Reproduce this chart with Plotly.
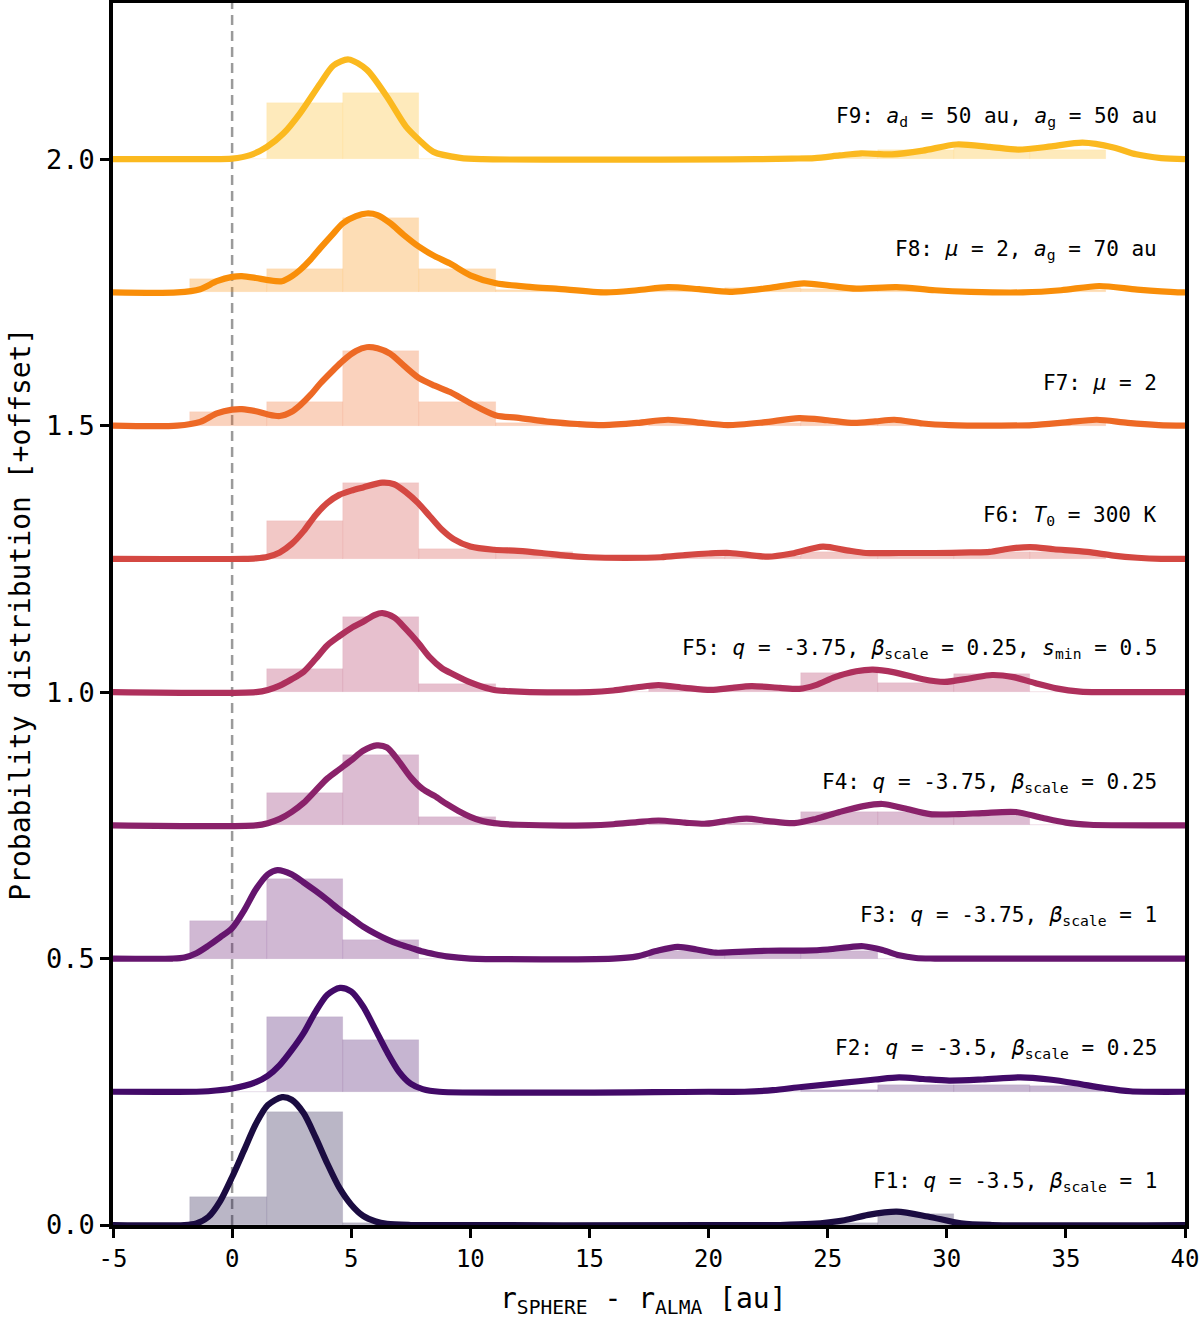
import plotly.graph_objects as go

# ---------------- data ----------------
bin_edges = [-1.77, 1.46, 4.66, 7.85, 11.08, 14.3, 17.5, 20.7, 23.9, 27.1, 30.3, 33.5, 36.7]

offsets = [0.0, 0.25, 0.5, 0.75, 1.0, 1.25, 1.5, 1.75, 2.0]
names = ["F1", "F2", "F3", "F4", "F5", "F6", "F7", "F8", "F9"]
colors = ["#1b0c41", "#420a68", "#65156e", "#8a226a", "#ae305c",
          "#d44842", "#ed6925", "#f98e09", "#fbb91f"]

labels = [
    "F1: <i>q</i> = -3.5, <i>β</i><sub>scale</sub> = 1",
    "F2: <i>q</i> = -3.5, <i>β</i><sub>scale</sub> = 0.25",
    "F3: <i>q</i> = -3.75, <i>β</i><sub>scale</sub> = 1",
    "F4: <i>q</i> = -3.75, <i>β</i><sub>scale</sub> = 0.25",
    "F5: <i>q</i> = -3.75, <i>β</i><sub>scale</sub> = 0.25, <i>s</i><sub>min</sub> = 0.5",
    "F6: <i>T</i><sub>0</sub> = 300 K",
    "F7: <i>μ</i> = 2",
    "F8: <i>μ</i> = 2, <i>a</i><sub>g</sub> = 70 au",
    "F9: <i>a</i><sub>d</sub> = 50 au, <i>a</i><sub>g</sub> = 50 au",
]

hist_F1 = [0.052, 0.212, 0.003, 0, 0, 0, 0, 0, 0.004, 0.02, 0, 0]
hist_F2 = [0, 0.141, 0.0965, 0, 0, 0, 0, 0, 0.004, 0.0125, 0.0125, 0.01]
hist_F3 = [0.07, 0.15, 0.034, 0, 0, 0, 0.015, 0.015, 0.015, 0, 0, 0]
hist_F4 = [0, 0.061, 0.132, 0.016, 0, 0, 0.005, 0.005, 0.025, 0.025, 0.022, 0]
hist_F5 = [0, 0.0425, 0.141, 0.016, 0, 0, 0.005, 0.005, 0.035, 0.0175, 0.033, 0]
hist_F6 = [0, 0.071, 0.1415, 0.018, 0.012, 0, 0.004, 0.006, 0.012, 0.008, 0.012, 0.012]
hist_F7 = [0.025, 0.0435, 0.14, 0.0435, 0.005, 0, 0.004, 0.004, 0.008, 0.004, 0, 0.005]
hist_F8 = [0.025, 0.044, 0.14, 0.044, 0.005, 0, 0.004, 0.008, 0.006, 0.004, 0, 0.005]
hist_F9 = [0, 0.105, 0.124, 0, 0, 0, 0, 0, 0.006, 0.018, 0.02, 0.017]

kde_F1_x = [-5, -2, -1.5, -1, -0.5, 0, 0.5, 1, 1.5, 2.1, 2.5, 3, 3.5, 4, 4.5, 5, 5.5, 6, 6.5, 7.5,
            20, 23, 24.3, 25.7, 26.7, 27.9, 29.2, 30.6, 31.9, 40]
kde_F1_y = [0, 0, 0.003, 0.015, 0.045, 0.09, 0.14, 0.19, 0.225, 0.24, 0.235, 0.21, 0.165, 0.115, 0.07,
            0.038, 0.017, 0.007, 0.002, 0, 0, 0, 0.002, 0.009, 0.019, 0.025, 0.016, 0.003, 0, 0]

kde_F2_x = [-5, -1.5, -1, 0, 1, 1.5, 2, 2.5, 3, 3.5, 4, 4.53, 5, 5.5, 6, 6.5, 7, 7.5, 8, 8.7,
            20, 21.5, 22.7, 23.9, 25.7, 27, 28, 29, 30.1, 31.5, 33.1, 34.3, 35.4, 36.6, 37.7, 40]
kde_F2_y = [0, 0, 0.001, 0.006, 0.018, 0.03, 0.05, 0.078, 0.11, 0.15, 0.182, 0.195, 0.188, 0.16, 0.118,
            0.075, 0.038, 0.015, 0.005, 0, 0, 0, 0.003, 0.009, 0.017, 0.023, 0.027, 0.024, 0.021,
            0.023, 0.027, 0.023, 0.016, 0.007, 0.001, 0]

kde_F3_x = [-5, -2.5, -2, -1.5, -1, -0.5, 0, 0.5, 1, 1.5, 1.9, 2.5, 3, 3.5, 4, 4.5, 5, 5.5, 6, 6.5,
            7, 7.5, 8, 8.5, 9, 10, 16, 17, 17.8, 18.7, 19.5, 20.3, 21, 22, 23, 24, 25, 26, 26.5,
            27.3, 28, 28.7, 29.5, 40]
kde_F3_y = [0, 0, 0.002, 0.01, 0.024, 0.04, 0.057, 0.09, 0.13, 0.158, 0.166, 0.158, 0.143, 0.127,
            0.11, 0.092, 0.076, 0.06, 0.047, 0.036, 0.027, 0.02, 0.013, 0.008, 0.004, 0, 0, 0.004,
            0.014, 0.022, 0.017, 0.011, 0.012, 0.014, 0.015, 0.015, 0.017, 0.022, 0.023, 0.016,
            0.006, 0.001, 0, 0]

kde_F4_x = [-5, 1, 1.5, 2, 2.5, 3, 3.5, 4, 4.5, 5, 5.5, 6.07, 6.5, 7, 7.5, 8, 8.5, 9, 9.5, 10, 10.5,
            11, 12, 15, 16, 17, 17.9, 19, 19.9, 21, 21.6, 22.5, 23.6, 24.5, 25.5, 26.5, 27.3, 28.2,
            29.3, 30.5, 31.5, 32.9, 34, 35, 36, 40]
kde_F4_y = [0, 0, 0.004, 0.012, 0.025, 0.042, 0.065, 0.088, 0.105, 0.122, 0.14, 0.15, 0.146, 0.12,
            0.09, 0.068, 0.055, 0.04, 0.027, 0.016, 0.008, 0.004, 0.001, 0, 0.002, 0.006, 0.009,
            0.005, 0.003, 0.01, 0.0125, 0.008, 0.004, 0.012, 0.025, 0.036, 0.04, 0.032, 0.021,
            0.021, 0.023, 0.025, 0.014, 0.005, 0.001, 0]

kde_F5_x = [-5, 1, 1.5, 2, 2.5, 3, 3.5, 4, 4.5, 5, 5.5, 6, 6.3, 6.8, 7.3, 7.8, 8.3, 8.8, 9.3, 10,
            10.5, 11, 11.5, 12.5, 15, 16, 17, 17.9, 19, 20.1, 21, 21.8, 23, 23.8, 24.5, 25.3, 26.2,
            26.9, 27.8, 29, 29.9, 31, 31.9, 32.8, 33.7, 34.6, 35.6, 36.5, 40]
kde_F5_y = [0, 0, 0.004, 0.012, 0.024, 0.038, 0.062, 0.088, 0.105, 0.12, 0.132, 0.145, 0.148, 0.14,
            0.118, 0.093, 0.065, 0.045, 0.033, 0.018, 0.01, 0.004, 0.002, 0, 0, 0.003, 0.009, 0.013,
            0.008, 0.004, 0.008, 0.011, 0.008, 0.006, 0.013, 0.028, 0.039, 0.042, 0.037, 0.024,
            0.019, 0.026, 0.032, 0.028, 0.017, 0.007, 0.001, 0, 0]

kde_F6_x = [-5, 0.5, 1, 1.5, 2, 2.5, 3, 3.5, 4, 4.5, 5, 5.5, 6.3, 6.8, 7.3, 7.8, 8.3, 8.8, 9.3, 10,
            11, 12, 13, 14, 15, 16.5, 18, 19, 20, 20.9, 22.5, 23.5, 24.8, 25.8, 26.6, 28, 29.5, 31,
            31.8, 32.6, 33.5, 34.5, 35.9, 37, 38, 39, 40]
kde_F6_y = [0, 0, 0.001, 0.004, 0.012, 0.028, 0.052, 0.082, 0.105, 0.12, 0.128, 0.134, 0.143, 0.14,
            0.125, 0.105, 0.08, 0.055, 0.037, 0.023, 0.017, 0.015, 0.011, 0.006, 0.003, 0.002, 0.003,
            0.007, 0.01, 0.011, 0.004, 0.01, 0.023, 0.016, 0.011, 0.011, 0.011, 0.012, 0.013, 0.019,
            0.022, 0.018, 0.013, 0.006, 0.002, 0, 0]

kde_F7_x = [-5, -2.3, -1.34, -0.64, 0, 0.41, 1, 1.5, 2.0, 2.5, 2.85, 3.3, 3.7, 4.2, 4.66, 5.2, 5.65,
            6.1, 6.63, 7.2, 7.85, 8.5, 9.15, 10.0, 11.08, 11.95, 13.35, 14.5, 15.6, 17, 18.3, 19.5,
            20.8, 22.3, 23.8, 25, 26.1, 27, 27.8, 29, 30.1, 32, 33.6, 35, 36.3, 37.6, 38.9, 40]
kde_F7_y = [0, 0, 0.007, 0.023, 0.03, 0.031, 0.027, 0.021, 0.018, 0.026, 0.038, 0.058, 0.079, 0.102,
            0.122, 0.14, 0.147, 0.145, 0.135, 0.113, 0.089, 0.075, 0.063, 0.042, 0.019, 0.015, 0.007,
            0.003, 0.001, 0.005, 0.011, 0.006, 0.001, 0.006, 0.014, 0.01, 0.005, 0.008, 0.011, 0.004,
            0.001, 0, 0.001, 0.006, 0.011, 0.005, 0.001, 0]

kde_F8_x = [-5, -2.3, -1.34, -0.64, 0, 0.41, 1, 1.5, 2.09, 2.5, 2.85, 3.3, 3.7, 4.2, 4.66, 5.2, 5.65,
            6.1, 6.63, 7.2, 7.85, 8.5, 9.15, 10.0, 11.08, 12.6, 13.6, 15.7, 17, 18.3, 19.6, 20.9,
            22.5, 24.0, 25.1, 26.2, 27.9, 29.5, 31, 33.2, 34.8, 36.4, 38, 39.7, 40]
kde_F8_y = [0, 0, 0.006, 0.021, 0.029, 0.0305, 0.027, 0.023, 0.021, 0.03, 0.042, 0.062, 0.083, 0.108,
            0.13, 0.143, 0.148, 0.145, 0.13, 0.108, 0.0855, 0.068, 0.054, 0.032, 0.017, 0.01, 0.007,
            0.0, 0.004, 0.01, 0.006, 0.001, 0.008, 0.017, 0.012, 0.007, 0.01, 0.004, 0.001, 0,
            0.004, 0.012, 0.005, 0, 0]

kde_F9_x = [-5, -1, 0, 0.76, 1.46, 2.15, 2.85, 3.7, 4.26, 4.89, 5.65, 6.5, 7.3, 7.85, 8.45, 9.57,
            10.5, 22, 23.5, 24.45, 25.5, 26.4, 27.7, 29, 30.4, 31.8, 33.0, 34.4, 35.7, 37, 37.95, 39, 40]
kde_F9_y = [0, 0, 0.001, 0.0075, 0.023, 0.048, 0.086, 0.142, 0.176, 0.187, 0.168, 0.117, 0.061,
            0.036, 0.0137, 0.0025, 0, 0, 0.001, 0.002, 0.007, 0.011, 0.009, 0.016, 0.0275, 0.023,
            0.018, 0.024, 0.031, 0.022, 0.009, 0.002, 0]

hists = [hist_F1, hist_F2, hist_F3, hist_F4, hist_F5, hist_F6, hist_F7, hist_F8, hist_F9]
kde_xs = [kde_F1_x, kde_F2_x, kde_F3_x, kde_F4_x, kde_F5_x, kde_F6_x, kde_F7_x, kde_F8_x, kde_F9_x]
kde_ys = [kde_F1_y, kde_F2_y, kde_F3_y, kde_F4_y, kde_F5_y, kde_F6_y, kde_F7_y, kde_F8_y, kde_F9_y]

x_ticks = [-5, 0, 5, 10, 15, 20, 25, 30, 35, 40]
x_ticktext = ["-5", "0", "5", "10", "15", "20", "25", "30", "35", "40"]
y_ticks = [0.0, 0.5, 1.0, 1.5, 2.0]
y_ticktext = ["0.0", "0.5", "1.0", "1.5", "2.0"]

# ---------------- figure ----------------
FONT = "DejaVu Sans Mono"


def rgba(hexc, a):
    h = hexc.lstrip("#")
    r, g, b = int(h[0:2], 16), int(h[2:4], 16), int(h[4:6], 16)
    return f"rgba({r},{g},{b},{a})"


centers = [(bin_edges[i] + bin_edges[i + 1]) / 2 for i in range(len(bin_edges) - 1)]
widths = [bin_edges[i + 1] - bin_edges[i] for i in range(len(bin_edges) - 1)]

fig = go.Figure()
for name, off, col, h, kx, ky in zip(names, offsets, colors, hists, kde_xs, kde_ys):
    fig.add_trace(go.Bar(
        x=centers, y=h, base=off, width=widths,
        marker=dict(color=rgba(col, 0.3), line=dict(width=0.6, color=rgba(col, 0.12))),
        showlegend=False, hoverinfo="skip", name=name + " hist"))
    fig.add_trace(go.Scatter(
        x=kx, y=[v + off for v in ky], mode="lines",
        line=dict(color=col, width=6.2, shape="spline", smoothing=0.8),
        showlegend=False, name=name))

annotations = []
for lab, off in zip(labels, offsets):
    annotations.append(dict(
        x=38.9, y=off + 0.08, xref="x", yref="y", text=lab, showarrow=False,
        xanchor="right", yanchor="middle", font=dict(family=FONT, size=21, color="black")))

annotations.append(dict(
    x=-0.087, y=0.5, xref="paper", yref="paper", textangle=-90, showarrow=False,
    text="Probability distribution [+offset]", xanchor="center", yanchor="middle",
    font=dict(family=FONT, size=28, color="black")))
annotations.append(dict(
    x=0.495, y=-0.062, xref="paper", yref="paper", showarrow=False,
    text="r<sub>SPHERE</sub> - r<sub>ALMA</sub> [au]", xanchor="center", yanchor="middle",
    font=dict(family=FONT, size=28, color="black")))

fig.update_layout(
    width=1200, height=1319,
    margin=dict(l=113, r=15, t=3, b=94, autoexpand=False),
    plot_bgcolor="white", paper_bgcolor="white",
    barmode="overlay", bargap=0,
    annotations=annotations,
    shapes=[dict(type="line", xref="x", yref="paper", x0=0, x1=0, y0=0, y1=1,
                 line=dict(color="#9a9a9a", width=2.5, dash="10px,6px"), layer="below")],
    font=dict(family=FONT, size=26, color="black"),
)
fig.update_xaxes(
    range=[-5.0001, 40.0001], tickvals=x_ticks, ticktext=x_ticktext, ticks="outside",
    ticklen=9, tickwidth=3, ticklabeloverflow="allow", automargin=False,
    tickcolor="black", showline=True, linewidth=3.5, linecolor="black", mirror=True,
    showgrid=False, zeroline=False, tickfont=dict(family=FONT, size=24))
fig.update_yaxes(
    range=[0, 2.293], tickvals=y_ticks, ticktext=y_ticktext, ticks="outside", ticklen=9,
    tickwidth=3, tickcolor="black", showline=True, linewidth=3.5, linecolor="black",
    mirror=True, showgrid=False, zeroline=False, automargin=False,
    tickfont=dict(family=FONT, size=27))

fig.write_html("out.html")
